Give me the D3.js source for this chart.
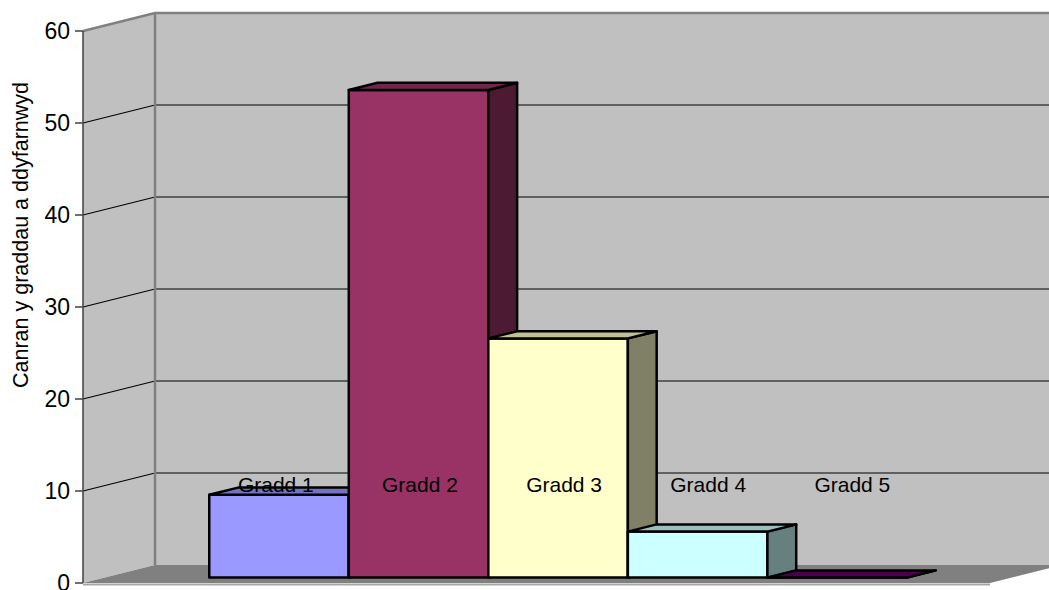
<!DOCTYPE html>
<html><head><meta charset="utf-8">
<script src="https://cdn.jsdelivr.net/npm/d3@7"></script>
<style>html,body{margin:0;padding:0;background:#fff;overflow:hidden;} text{font-family:"Liberation Sans",Arial,sans-serif;}</style>
</head><body><svg id="chart" width="1049" height="590"></svg>
<script>
const categories = ["Gradd 1","Gradd 2","Gradd 3","Gradd 4","Gradd 5"];
const values = [9, 53, 26, 5, 0];
const yTicks = [0,10,20,30,40,50,60];
const barColors = ["#9999ff","#993366","#ffffcc","#ccffff","#660066"];
const yTitle = "Canran y graddau a ddyfarnwyd";

const svg = d3.select("#chart");
const X0 = 83, X1 = 990, DX = 72, DY = 18;
const y = d3.scaleLinear().domain([0,60]).range([583,31]);
const x = d3.scaleBand().domain(categories).range([X0,X1]).paddingOuter(0.75).paddingInner(0);
const P = (px, v, f) => [px + DX*f, y(v) - DY*f];
const poly = pts => "M" + pts.map(p => p.join(",")).join("L") + "Z";
const line = pts => "M" + pts.map(p => p.join(",")).join("L");
const shade = (c, k) => { const r = d3.rgb(c); return d3.rgb(r.r*k, r.g*k, r.b*k).formatHex(); };

// walls
svg.append("path").attr("d", poly([P(X0,60,1),P(X1,60,1),P(X1,0,1),P(X0,0,1)])).attr("fill","#c0c0c0");
svg.append("path").attr("d", poly([P(X0,60,0),P(X0,60,1),P(X0,0,1),P(X0,0,0)])).attr("fill","#c0c0c0");
svg.append("path").attr("d", poly([P(X0,0,0),P(X1,0,0),P(X1,0,1),P(X0,0,1)])).attr("fill","#808080");
svg.append("path").attr("d", line([P(X0,0,0),P(X1,0,0)])).attr("stroke","#a6a6a6").attr("stroke-width",2).attr("transform","translate(0,1.5)");

// gridlines
yTicks.filter(v => v > 0 && v < 60).forEach(v => {
  svg.append("path").attr("d", line([P(X0,v,0),P(X0,v,1),P(X1,v,1)])).attr("fill","none").attr("stroke","#000").attr("stroke-width",1.2);
});
// wall borders
svg.append("path").attr("d", line([P(X0,60,0),P(X0,60,1),P(X1,60,1)])).attr("fill","none").attr("stroke","#808080").attr("stroke-width",2.5);
svg.append("path").attr("d", line([P(X0,60,1),P(X0,0,1)])).attr("fill","none").attr("stroke","#808080").attr("stroke-width",2.5);

// front axis
svg.append("path").attr("d", line([P(X0,60,0),P(X0,0,0)])).attr("stroke","#404040").attr("stroke-width",1.5);
const ticks = svg.append("g");
yTicks.forEach(v => {
  ticks.append("line").attr("x1",X0-8).attr("x2",X0).attr("y1",y(v)).attr("y2",y(v)).attr("stroke","#404040").attr("stroke-width",1.5);
  ticks.append("text").attr("x",X0-13).attr("y",y(v)).attr("dy","0.36em").attr("text-anchor","end").attr("font-size",23).attr("fill","#000").text(v);
});

// bars
const F0 = 0.3, F1 = 0.7;
categories.forEach((c,i) => {
  const v = values[i], xl = x(c), xr = xl + x.bandwidth(), col = barColors[i];
  const g = svg.append("g").attr("stroke","#000").attr("stroke-width",2.5).attr("stroke-linejoin","round");
  g.append("path").attr("d", poly([P(xl,0,F0),P(xr,0,F0),P(xr,v,F0),P(xl,v,F0)])).attr("fill",col);
  g.append("path").attr("d", poly([P(xr,0,F0),P(xr,0,F1),P(xr,v,F1),P(xr,v,F0)])).attr("fill",shade(col,0.5));
  g.append("path").attr("d", poly([P(xl,v,F0),P(xr,v,F0),P(xr,v,F1),P(xl,v,F1)])).attr("fill",shade(col,0.75));
});

// series labels
categories.forEach((c,i) => {
  const cx = x(c) + x.bandwidth()/2 + DX*F0 + 6 + (i-2)*4.6;
  svg.append("text").attr("x",cx).attr("y",y(10)+1).attr("text-anchor","middle").attr("font-size",21).attr("fill","#000").text(c);
});

// axis title
svg.append("text").attr("transform","translate(28,235) rotate(-90)").attr("text-anchor","middle").attr("font-size",21.5).attr("fill","#000").text(yTitle);
</script></body></html>
